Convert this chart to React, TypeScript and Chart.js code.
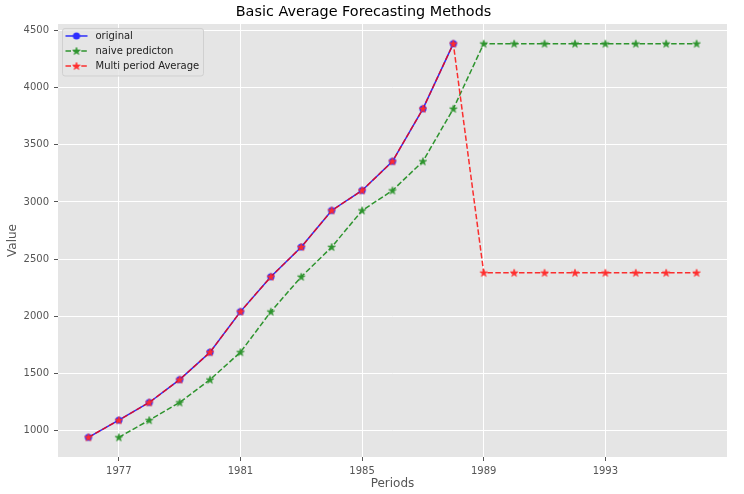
import React, { useEffect, useRef } from 'react';
import { Chart, registerables } from 'chart.js';

Chart.register(...registerables);

const years = [1976, 1977, 1978, 1979, 1980, 1981, 1982, 1983, 1984, 1985, 1986, 1987, 1988, 1989, 1990, 1991, 1992, 1993, 1994, 1995, 1996];
const originalValues = [940, 1090, 1245, 1445, 1685, 2040, 2345, 2605, 2925, 3100, 3355, 3815, 4385];
const naiveValues = [null, 940, 1090, 1245, 1445, 1685, 2040, 2345, 2605, 2925, 3100, 3355, 3815, 4385, 4385, 4385, 4385, 4385, 4385, 4385, 4385];
const averageValues = [940, 1090, 1245, 1445, 1685, 2040, 2345, 2605, 2925, 3100, 3355, 3815, 4385, 2380, 2380, 2380, 2380, 2380, 2380, 2380, 2380];
const xTicks = [1977, 1981, 1985, 1989, 1993];
const yTicks = [1000, 1500, 2000, 2500, 3000, 3500, 4000, 4500];
const seriesNames = ['original', 'naive predicton', 'Multi period Average'];

const FONT = "'DejaVu Sans', sans-serif";

function makeStar(color: string, R: number) {
  const r = R * 0.382;
  const size = Math.ceil(R * 2) + 2;
  const c = document.createElement('canvas');
  c.width = size;
  c.height = size;
  const ctx = c.getContext('2d')!;
  const cx = size / 2, cy = size / 2 + 0.3;
  ctx.beginPath();
  for (let i = 0; i < 10; i++) {
    const rad = i % 2 === 0 ? R : r;
    const a = -Math.PI / 2 + (i * Math.PI) / 5;
    ctx.lineTo(cx + rad * Math.cos(a), cy + rad * Math.sin(a));
  }
  ctx.closePath();
  ctx.fillStyle = color;
  ctx.fill();
  ctx.strokeStyle = color;
  ctx.lineWidth = 0.8;
  ctx.stroke();
  return c;
}

function makeCircle(color: string, R: number) {
  const size = Math.ceil(R * 2) + 2;
  const c = document.createElement('canvas');
  c.width = size;
  c.height = size;
  const ctx = c.getContext('2d')!;
  ctx.beginPath();
  ctx.arc(size / 2, size / 2, R, 0, Math.PI * 2);
  ctx.fillStyle = color;
  ctx.fill();
  return c;
}

export default function App() {
  const ref = useRef<HTMLCanvasElement | null>(null);

  useEffect(() => {
    const canvas = ref.current!;
    const blueLine = 'rgba(0,0,255,0.8)';
    const greenLine = 'rgba(0,128,0,0.8)';
    const redLine = 'rgba(255,0,0,0.8)';
    const blueCircle = makeCircle('#2e2eff', 3.6);
    const greenStar = makeStar('#2e942e', 3.9);
    const redStar = makeStar('#ff2e2e', 3.9);
    const dash = [5.5, 2.4];

    const bgPlugin = {
      id: 'bg',
      beforeDraw(chart: any) {
        const { ctx, chartArea } = chart;
        ctx.save();
        ctx.fillStyle = '#E5E5E5';
        ctx.fillRect(chartArea.left, chartArea.top, chartArea.right - chartArea.left, chartArea.bottom - chartArea.top);
        ctx.restore();
      },
    };

    const legendPlugin = {
      id: 'mplLegend',
      afterDraw(chart: any) {
        const { ctx, chartArea } = chart;
        const x0 = chartArea.left + 4.5;
        const y0 = chartArea.top + 4.5;
        const w = 141;
        const h = 47.5;
        ctx.save();
        ctx.beginPath();
        const rr = 2.5;
        ctx.moveTo(x0 + rr, y0);
        ctx.lineTo(x0 + w - rr, y0);
        ctx.quadraticCurveTo(x0 + w, y0, x0 + w, y0 + rr);
        ctx.lineTo(x0 + w, y0 + h - rr);
        ctx.quadraticCurveTo(x0 + w, y0 + h, x0 + w - rr, y0 + h);
        ctx.lineTo(x0 + rr, y0 + h);
        ctx.quadraticCurveTo(x0, y0 + h, x0, y0 + h - rr);
        ctx.lineTo(x0, y0 + rr);
        ctx.quadraticCurveTo(x0, y0, x0 + rr, y0);
        ctx.closePath();
        ctx.fillStyle = 'rgba(229,229,229,0.8)';
        ctx.fill();
        ctx.strokeStyle = '#d0d0d0';
        ctx.lineWidth = 1;
        ctx.stroke();

        const items = [
          { color: blueLine, marker: blueCircle, dashed: false },
          { color: greenLine, marker: greenStar, dashed: true },
          { color: redLine, marker: redStar, dashed: true },
        ];
        items.forEach((it, i) => {
          const y = y0 + 7.5 + i * 15;
          ctx.beginPath();
          ctx.setLineDash(it.dashed ? dash : []);
          ctx.strokeStyle = it.color;
          ctx.lineWidth = 1.5;
          ctx.moveTo(x0 + 3, y);
          ctx.lineTo(x0 + 25, y);
          ctx.stroke();
          ctx.setLineDash([]);
          const m = it.marker;
          ctx.drawImage(m, x0 + 14 - m.width / 2, y - m.height / 2);
          ctx.fillStyle = '#222';
          ctx.font = `10px ${FONT}`;
          ctx.textBaseline = 'middle';
          ctx.textAlign = 'left';
          ctx.fillText(seriesNames[i], x0 + 33, y);
        });
        ctx.restore();
      },
    };

    const chart = new Chart(canvas, {
      type: 'line',
      data: {
        datasets: [
          {
            label: seriesNames[0],
            data: originalValues.map((v, i) => ({ x: years[i], y: v })),
            borderColor: blueLine,
            borderWidth: 1.5,
            pointStyle: blueCircle as any,
            pointRadius: 4,
            order: 3,
            tension: 0,
          },
          {
            label: seriesNames[1],
            data: naiveValues.map((v, i) => ({ x: years[i], y: v as any })),
            borderColor: greenLine,
            borderWidth: 1.5,
            borderDash: dash,
            pointStyle: greenStar as any,
            pointRadius: 4,
            order: 2,
            tension: 0,
          },
          {
            label: seriesNames[2],
            data: averageValues.map((v, i) => ({ x: years[i], y: v })),
            borderColor: redLine,
            borderWidth: 1.5,
            borderDash: dash,
            pointStyle: redStar as any,
            pointRadius: 4,
            order: 1,
            tension: 0,
          },
        ],
      },
      options: {
        responsive: false,
        animation: false,
        devicePixelRatio: 1,
        layout: { padding: { left: 0, right: 17, top: 0, bottom: 0 } },
        plugins: {
          legend: { display: false },
          tooltip: { enabled: false },
          title: {
            display: true,
            text: 'Basic Average Forecasting Methods',
            color: '#000',
            font: { family: FONT, size: 14.4, weight: 'normal' },
            padding: { top: 3.5, bottom: 3.2 },
          },
        },
        scales: {
          x: {
            type: 'linear',
            min: 1975,
            max: 1997,
            afterBuildTicks: (s: any) => {
              s.ticks = xTicks.map((v) => ({ value: v }));
            },
            afterFit: (s: any) => {
              s.height = 37;
            },
            ticks: {
              callback: (v: any) => String(v),
              color: '#555',
              font: { family: FONT, size: 10 },
              padding: 4.5,
              maxRotation: 0,
              autoSkip: false,
            },
            grid: { color: '#ffffff', lineWidth: 1, tickColor: '#555', tickLength: 4, tickWidth: 1 },
            border: { display: false },
            title: {
              display: true,
              text: 'Periods',
              color: '#555',
              font: { family: FONT, size: 12 },
              padding: { top: 0, bottom: 2.5 },
            },
          },
          y: {
            type: 'linear',
            min: 768,
            max: 4557,
            afterBuildTicks: (s: any) => {
              s.ticks = yTicks.map((v) => ({ value: v }));
            },
            afterFit: (s: any) => {
              s.width = 58;
            },
            ticks: {
              callback: (v: any) => String(v),
              color: '#555',
              font: { family: FONT, size: 10 },
              padding: 5,
              autoSkip: false,
            },
            grid: { color: '#ffffff', lineWidth: 1, tickColor: '#555', tickLength: 4, tickWidth: 1 },
            border: { display: false },
            title: {
              display: true,
              text: 'Value',
              color: '#555',
              font: { family: FONT, size: 12 },
              padding: { top: 6, bottom: 0 },
            },
          },
        },
      } as any,
      plugins: [bgPlugin, legendPlugin],
    });
    return () => chart.destroy();
  }, []);

  return (
    <div style={{ position: 'absolute', left: 0, top: 0, width: 744, height: 494 }}>
      <canvas ref={ref} width={744} height={494} />
    </div>
  );
}
